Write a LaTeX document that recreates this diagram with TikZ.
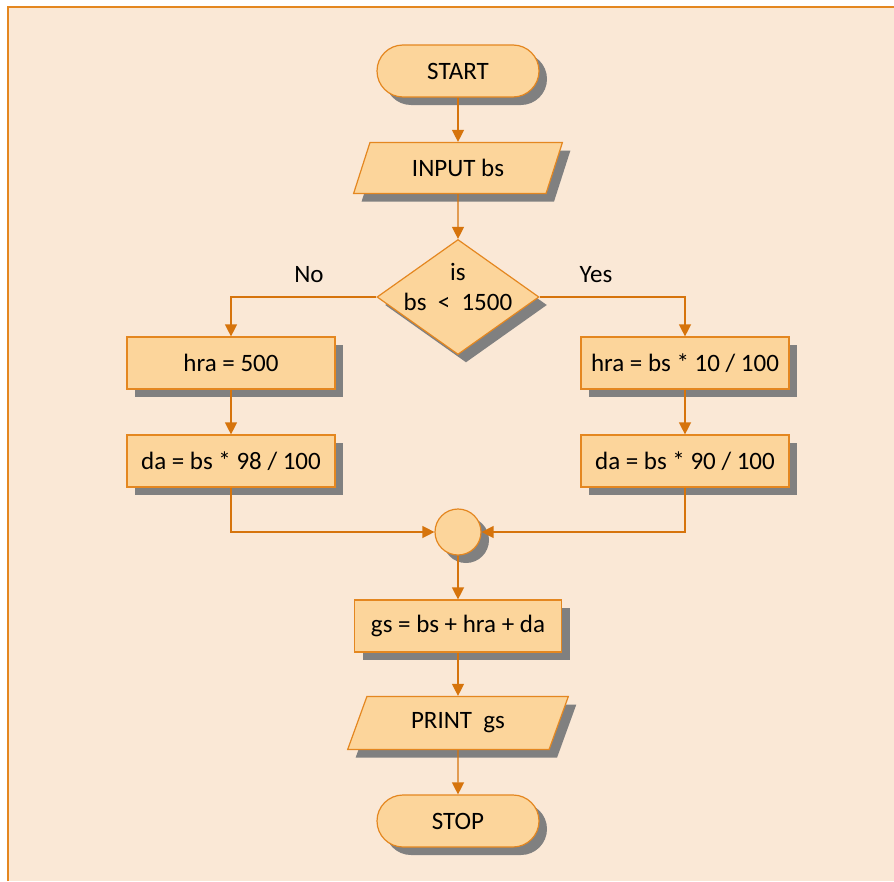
\documentclass[tikz,border=0pt]{standalone}
\usepackage{fontspec}
\setmainfont{Carlito}
\usetikzlibrary{shapes.geometric,shadows,arrows.meta}

\definecolor{pagebg}{RGB}{250,232,214}
\definecolor{boxfill}{RGB}{252,213,155}
\definecolor{boxline}{RGB}{228,135,32}
\definecolor{flowline}{RGB}{214,116,12}
\definecolor{shade}{RGB}{128,128,128}

\tikzset{
  box/.style={draw=boxline, line width=1.2pt, fill=boxfill,
    minimum width=208pt, minimum height=52pt, inner sep=0pt,
    font=\fontsize{25}{30}\selectfont,
    drop shadow={shadow xshift=8pt, shadow yshift=-8pt, fill=shade, opacity=1}},
  terminal/.style={box, rounded corners=26pt, minimum width=162pt},
  io/.style={box, trapezium, trapezium left angle=64, trapezium right angle=116,
    trapezium stretches=true},
  decision/.style={box, diamond, minimum width=162pt, minimum height=115pt},
  joint/.style={box, circle, minimum size=46pt},
  flow/.style={draw=flowline, line width=1.3pt, -{Triangle[length=12pt,width=12pt]}},
  label/.style={font=\fontsize{25}{30}\selectfont}
}

\begin{document}
\begin{tikzpicture}[x=1pt, y=-1pt]
      \useasboundingbox (0,0) rectangle (894,881);
      \fill[pagebg] (8,7) rectangle (894,881);
      \draw[boxline, line width=2pt] (8,881) -- (8,7) -- (894,7);

      \node[terminal] (start) at (458,71) {START};
      \node[io, minimum width=209pt, minimum height=51pt] (input) at (458,168) {INPUT bs};
      \node[decision] (dec) at (458,297) {};
      \node[label, align=center] (dectext) at (458,287) {is\\bs~~<~~1500};

      \node[box] (hra1) at (231,363) {hra = 500};
      \node[box] (da1) at (231,461) {da = bs * 98 / 100};
      \node[box] (hra2) at (685,363) {hra = bs * 10 / 100};
      \node[box] (da2) at (685,461) {da = bs * 90 / 100};

      \node[joint] (join) at (458,532) {};
      \node[box, minimum width=207pt] (gs) at (458,626) {gs = bs + hra + da};
      \node[io, minimum width=221pt, minimum height=53pt] (print) at (458,723) {PRINT~~gs};
      \node[terminal] (stop) at (458,821) {STOP};

      \node[label] (no) at (309,275) {No};
      \node[label] (yes) at (596,275) {Yes};

      \draw[flow] (start) -- (input);
      \draw[flow] (input) -- (dec);
      \draw[flow] (dec.west) -| (hra1.north);
      \draw[flow] (dec.east) -| (hra2.north);
      \draw[flow] (hra1) -- (da1);
      \draw[flow] (hra2) -- (da2);
      \draw[flow] (da1.south) |- (join.west);
      \draw[flow] (da2.south) |- (join.east);
      \draw[flow] (join) -- (gs);
      \draw[flow] (gs) -- (print);
      \draw[flow] (print) -- (stop);
    \end{tikzpicture}
\end{document}
